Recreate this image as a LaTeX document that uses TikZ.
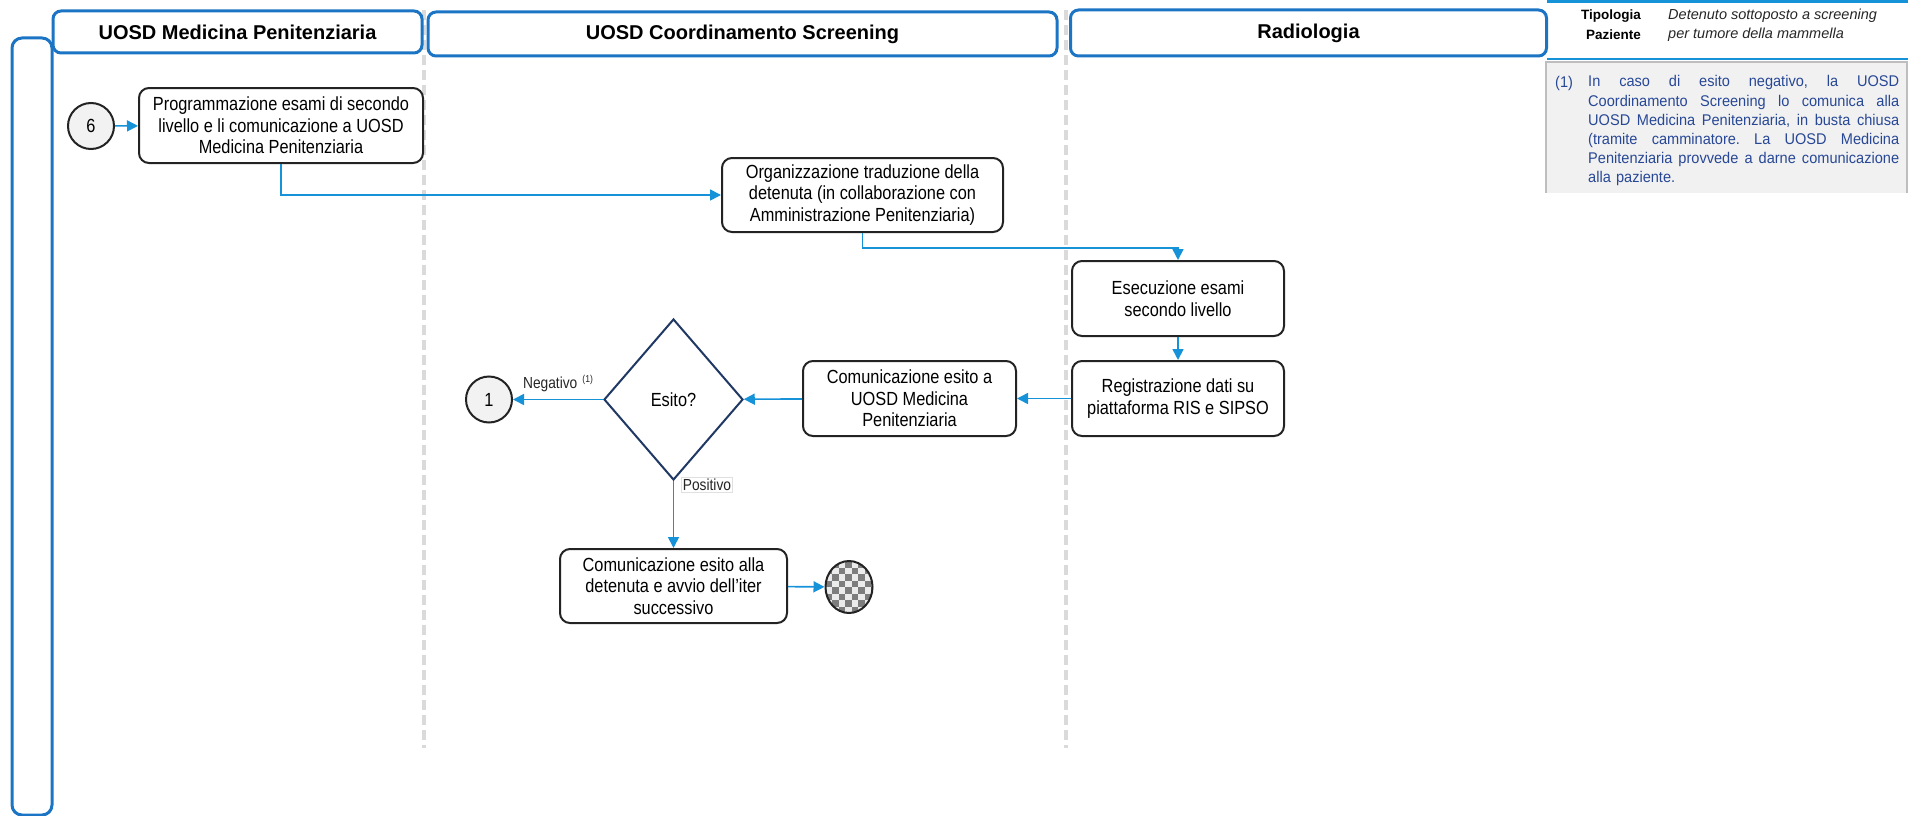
\documentclass[tikz,border=0pt]{standalone}
\usepackage{fontspec}
\setmainfont{Liberation Sans}
\newfontfamily\bodyf[FakeStretch=0.86]{Liberation Sans}
\newfontfamily\notef[FakeStretch=0.94]{Liberation Sans}
\usetikzlibrary{arrows.meta,shapes.geometric}
\definecolor{hblue}{RGB}{28,117,196}
\definecolor{ablue}{RGB}{22,146,216}
\definecolor{navy}{RGB}{31,56,100}
\definecolor{notetxt}{RGB}{40,72,150}
\definecolor{notefill}{RGB}{241,241,241}
\definecolor{noteline}{RGB}{190,190,190}
\definecolor{dashgray}{RGB}{218,218,218}
\definecolor{boxline}{RGB}{35,35,35}
\definecolor{circfill}{RGB}{242,242,242}
\definecolor{checklight}{RGB}{235,235,235}
\definecolor{checkdark}{RGB}{125,125,125}
\newcommand\bodyfont{\bodyf\fontsize{19}{21.7}\selectfont}
\newcommand\labfont{\bodyf\fontsize{16}{18}\selectfont}
\newcommand\hdrfont{\fontsize{20}{24}\selectfont\bfseries}
\newcommand\notefont{\notef\fontsize{15.5}{19.2}\selectfont}
\newcommand\js{\hspace{3.5pt plus 1fill}}
\newcommand\jline[1]{\leavevmode\hbox to 311pt{#1}}
\begin{document}
\begin{tikzpicture}[x=1pt,y=-1pt,
  proc/.style={draw=boxline, line width=2pt, rounded corners=10pt, fill=white, inner sep=0pt, align=center, font=\bodyfont, text=black},
  hdr/.style={draw=hblue, line width=3pt, rounded corners=8pt, fill=white, inner sep=0pt, font=\hdrfont, text=black},
  conn/.style={draw=ablue, line width=1.6pt, -{Triangle[length=11pt,width=11pt]}},
  circ/.style={circle, draw=boxline, line width=2pt, fill=circfill, minimum size=46pt, inner sep=0pt, font=\bodyfont},
  lanesep/.style={draw=dashgray, line width=3.5pt, dash pattern=on 10pt off 5pt},
  tline/.style={draw=ablue, line width=2.5pt},
]
\useasboundingbox (0,0) rectangle (1908,816);

% lane separators
\coordinate (s1a) at (424,10); \coordinate (s1b) at (424,748);
\coordinate (s2a) at (1066,10); \coordinate (s2b) at (1066,748);
\draw[lanesep] (s1a) -- (s1b);
\draw[lanesep] (s2a) -- (s2b);

% left bar and headers
\node[draw=hblue, line width=3pt, rounded corners=10pt, minimum width=40pt, minimum height=777pt, inner sep=0pt] (lanebar) at (32,426.5) {};
\node[hdr, minimum width=369pt, minimum height=42pt] (h1) at (237.5,32) {UOSD Medicina Penitenziaria};
\node[hdr, minimum width=629pt, minimum height=44pt] (h2) at (742.5,34) {UOSD Coordinamento Screening};
\node[hdr, minimum width=476pt, minimum height=46pt] (h3) at (1308.5,33) {Radiologia};

% process nodes
\node[circ] (c6) at (91,126) {6};
\node[proc, minimum width=284pt, minimum height=75pt] (prog) at (281,125.5) {Programmazione esami di secondo\\livello e li comunicazione a UOSD\\Medicina Penitenziaria};
\node[proc, minimum width=281pt, minimum height=74pt] (org) at (862.5,195) {Organizzazione traduzione della\\detenuta (in collaborazione con\\Amministrazione Penitenziaria)};
\node[proc, minimum width=212pt, minimum height=75pt] (ese) at (1178,298.5) {Esecuzione esami\\secondo livello};
\node[proc, minimum width=212pt, minimum height=75pt] (reg) at (1178,398.5) {Registrazione dati su\\piattaforma RIS e SIPSO};
\node[proc, minimum width=213pt, minimum height=75pt] (coma) at (909.5,398.5) {Comunicazione esito a\\UOSD Medicina\\Penitenziaria};
\node[diamond, draw=navy, line width=2pt, fill=white, minimum width=139pt, minimum height=161pt, inner sep=0pt, font=\bodyfont] (dia) at (673.5,399.5) {Esito?};
\node[circ] (c1) at (489,399.5) {1};
\node[proc, minimum width=227pt, minimum height=74pt] (comb) at (673.5,586) {Comunicazione esito alla\\detenuta e avvio dell’iter\\successivo};

% end event (checkered)
\begin{scope}
  \clip (849,587) ellipse [x radius=23.5, y radius=26];
  \fill[checklight] (825,560) rectangle (874,614);
  \foreach \i in {0,...,7} {
    \foreach \j in {0,...,8} {
      \pgfmathtruncatemacro\chk{mod(\i+\j,2)}
      \ifnum\chk=1 \fill[checkdark] ({825.5+\i*6.5},{561+\j*6.5}) rectangle ++(6.5,6.5); \fi
    }
  }
\end{scope}
\node[ellipse, draw=boxline, line width=2pt, minimum width=47pt, minimum height=52pt, inner sep=0pt] (end) at (849,587) {};

% connectors
\draw[conn] (c6) -- (prog);
\draw[conn] (prog.south) |- (org.west);
\draw[conn] (org.south) -- ++(0,15) -| (ese.north);
\draw[conn] (ese) -- (reg);
\draw[conn] (reg) -- (coma);
\draw[conn] (coma) -- (dia);
\draw[conn] (dia.west) -- node[midway, anchor=base, yshift=11pt, inner sep=0pt, font=\labfont, text=black!85] {Negativo\hspace{5pt}\raisebox{6pt}{\fontsize{10}{10}\selectfont(1)}} (c1.east);
\draw[conn] (dia.south) -- node[pos=0, anchor=north west, xshift=7.5pt, yshift=4pt, draw=black!12, line width=0.7pt, fill=white, inner sep=1.5pt, font=\labfont, text=black!85] {Positivo} (comb.north);
\draw[conn] (comb) -- (end);

% patient type table
\draw[tline] (1547,1.5) -- (1908,1.5);
\node[anchor=east, inner sep=0pt, font=\bfseries\fontsize{13.5}{16}\selectfont] (tip1) at (1641,16) {Tipologia};
\node[anchor=east, inner sep=0pt, font=\bfseries\fontsize{13.5}{16}\selectfont] (tip2) at (1641,35) {Paziente};
\node[anchor=west, inner sep=0pt, font=\itshape\fontsize{14.5}{17}\selectfont, text=black!85] (det1) at (1668,16) {Detenuto sottoposto a screening};
\node[anchor=west, inner sep=0pt, font=\itshape\fontsize{14.5}{17}\selectfont, text=black!85] (det2) at (1668,35) {per tumore della mammella};
\draw[tline] (1547,59) -- (1908,59);

% note box
\fill[notefill] (1546,62) rectangle (1907,193);
\draw[noteline, line width=1.5pt] (1546,193) -- (1546,62) -- (1907,62) -- (1907,193);
\node[anchor=base west, inner sep=0pt, font=\notefont, text=notetxt] (n1) at (1555,87) {(1)};
\node[anchor=north west, text width=311pt, align=left, inner sep=0pt, font=\notefont, text=notetxt] (note) at (1588,75.5) {\jline{In\js caso\js di\js esito\js negativo,\js la\js UOSD}\\
\jline{Coordinamento\js Screening\js lo\js comunica\js alla}\\
\jline{UOSD\js Medicina\js Penitenziaria,\js in\js busta\js chiusa}\\
\jline{(tramite\js camminatore.\js La\js UOSD\js Medicina}\\
\jline{Penitenziaria\js provvede\js a\js darne\js comunicazione}\\
alla paziente.};
\end{tikzpicture}
\end{document}
